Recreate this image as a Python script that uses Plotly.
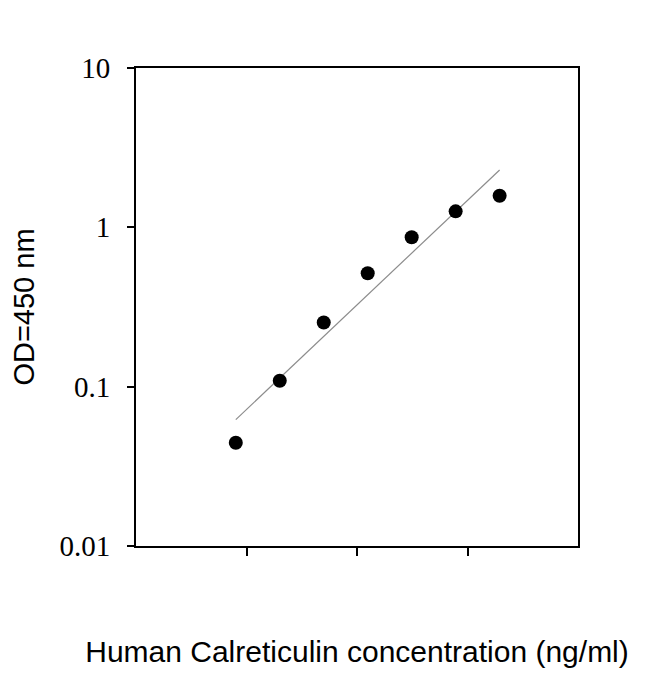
import numpy as np
import plotly.graph_objects as go

# standard curve points (concentration, OD450)
conc = [0.08, 0.2, 0.5, 1.25, 3.125, 7.8125, 19.53125]
od = [0.0445, 0.109, 0.253, 0.515, 0.866, 1.26, 1.58]

ytick_vals = [0.01, 0.1, 1, 10]
ytick_text = ["0.01", "0.1", "1", "10"]
xtick_vals = [0.1, 1, 10]

# power fit in log-log space
k, b = np.polyfit(np.log10(conc), np.log10(od), 1)
fit_x = [conc[0], conc[-1]]
fit_y = [10 ** (k * np.log10(v) + b) for v in fit_x]

fig = go.Figure()
fig.add_trace(go.Scatter(x=fit_x, y=fit_y, mode="lines",
                         line=dict(color="#8c8c8c", width=1.2), hoverinfo="skip"))
fig.add_trace(go.Scatter(x=conc, y=od, mode="markers",
                         marker=dict(color="black", size=14)))

fig.update_layout(
    width=650, height=674,
    margin=dict(l=128, r=80, t=60, b=136),
    plot_bgcolor="white", paper_bgcolor="white",
    showlegend=False,
)
fig.update_xaxes(
    type="log", range=[-2, 2],
    tickvals=xtick_vals, showticklabels=False,
    ticks="outside", ticklen=8, tickwidth=2, tickcolor="black",
    showline=True, linecolor="black", linewidth=2, mirror=True,
    showgrid=False, zeroline=False,
    title=dict(text="Human Calreticulin concentration (ng/ml)",
               font=dict(family="Liberation Sans", size=30, color="black"),
               standoff=86),
)
fig.update_yaxes(
    type="log", range=[-2, 1],
    tickvals=ytick_vals, ticktext=ytick_text,
    ticks="outside", ticklen=7, tickwidth=2, tickcolor="black",
    ticklabelstandoff=11,
    tickfont=dict(family="Liberation Serif", size=29, color="black"),
    showline=True, linecolor="black", linewidth=2, mirror=True,
    showgrid=False, zeroline=False,
    title=dict(text="OD=450 nm",
               font=dict(family="Liberation Sans", size=29, color="black"),
               standoff=20),
)

fig.write_html("out.html")
